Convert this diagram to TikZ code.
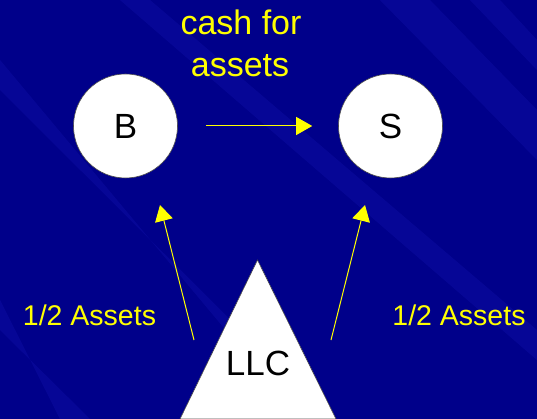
\documentclass[tikz,border=0pt]{standalone}
\usepackage{fontspec}
\setmainfont{Liberation Sans}
\usetikzlibrary{arrows.meta}
\definecolor{bgblue}{RGB}{0,0,138}
\definecolor{bandblue}{RGB}{20,20,175}
\definecolor{ylw}{RGB}{255,255,0}
\tikzset{
  party/.style={circle, fill=white, draw=black!70, line width=0.6pt, minimum size=104pt, inner sep=0pt, font=\fontsize{35}{40}\selectfont},
  lbl/.style={text=ylw, font=\fontsize{28.5}{34}\selectfont, inner sep=0pt},
  biglbl/.style={text=ylw, font=\fontsize{34}{40}\selectfont, inner sep=0pt},
  flow/.style={draw=ylw, line width=1pt, -{Triangle[length=16pt,width=18pt]}},
  band/.style={fill=bandblue, opacity=0.35}
}
\begin{document}
\begin{tikzpicture}[x=1pt,y=-1pt]
\useasboundingbox (0,0) rectangle (537,419);
\fill[bgblue] (0,0) rectangle (537,419);
% faint diagonal bands
\begin{scope}
\clip (0,0) rectangle (537,419);
\fill[band] (380,0) -- (430,0) -- (537,110) -- (537,160) -- cycle;
\fill[band] (120,0) -- (150,0) -- (537,330) -- (537,360) -- cycle;
\fill[band] (0,60) -- (0,90) -- (330,419) -- (300,419) -- cycle;
\fill[band] (0,300) -- (0,330) -- (90,419) -- (60,419) -- cycle;
\fill[band] (470,0) -- (500,0) -- (537,40) -- (537,70) -- cycle;
\end{scope}
% parties
\node[party] (B) at (125.5,126) {B};
\node[party] (S) at (390.5,126) {S};
% LLC triangle
\coordinate (apex) at (257.5,260);
\coordinate (bl) at (180,419);
\coordinate (br) at (336,419);
\fill[white, draw=black!70, line width=0.6pt] (apex) -- (br) -- (bl) -- cycle;
\node[font=\fontsize{35}{40}\selectfont, anchor=base, inner sep=0pt] (LLC) at (258,375) {LLC};
% cash for assets
\node[biglbl, anchor=base] (cash) at (241,35) {cash for};
\node[biglbl, anchor=base] (assets) at (240,77) {assets};
\draw[flow, shorten <=28pt, shorten >=26pt] (B) -- (S);
% half-asset arrows
\coordinate (lt) at (194,340);
\coordinate (lh) at (160,205);
\coordinate (rt) at (331,340);
\coordinate (rh) at (365,205);
\draw[flow] (lt) -- (lh);
\draw[flow] (rt) -- (rh);
\node[lbl, anchor=base] (la) at (89.5,325) {1/2 Assets};
\node[lbl, anchor=base] (ra) at (459,325) {1/2 Assets};
\end{tikzpicture}
\end{document}
